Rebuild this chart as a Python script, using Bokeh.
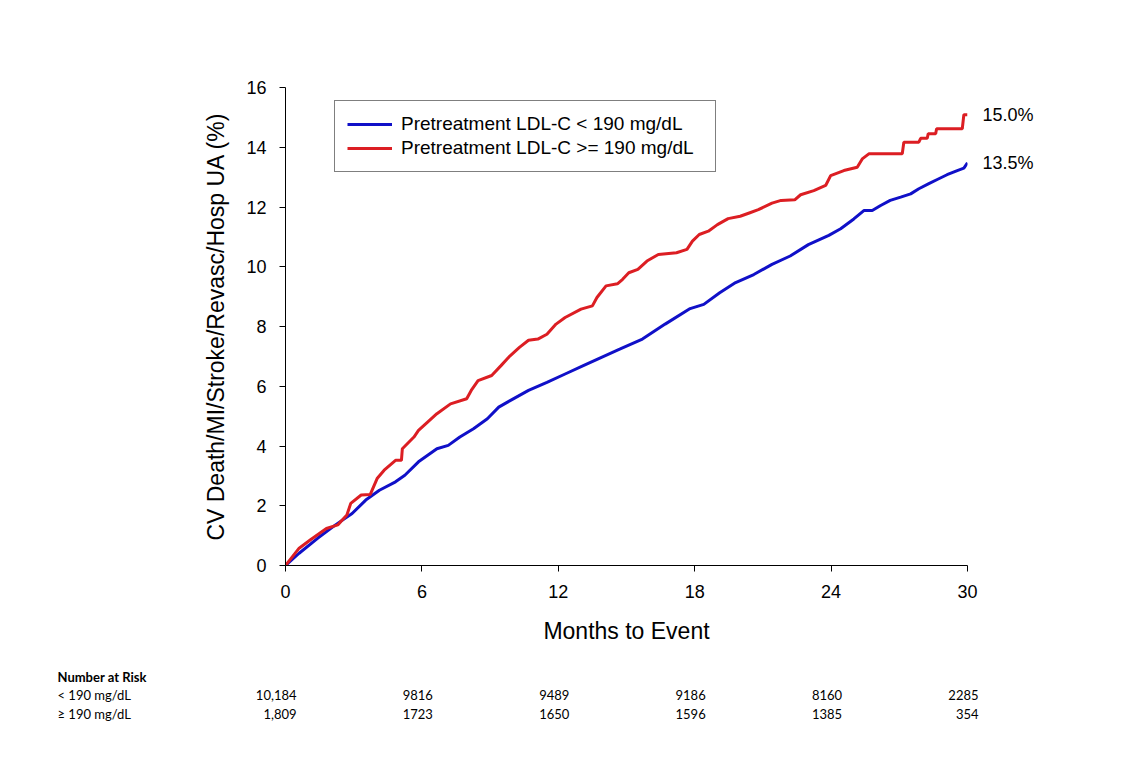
from bokeh.plotting import figure
from bokeh.models import Range1d, Legend, LegendItem, FixedTicker, ColumnDataSource, LinearAxis
from bokeh.embed import file_html
from bokeh.resources import INLINE
from bokeh.core.properties import value

# ---------------- data ----------------
months_low = [0, 0.6, 1.41, 2.2, 2.93, 3.53, 4.13, 4.84, 5.25, 5.85, 6.66, 7.16, 7.67, 8.27,
              8.88, 9.38, 9.88, 10.69, 11.5, 12.3, 13.1, 13.9, 14.7, 15.7, 16.7, 17.8, 18.4,
              19.1, 19.8, 20.6, 21.4, 22.2, 23.0, 23.9, 24.42, 25.0, 25.44, 25.81, 26.18,
              26.6, 27.06, 27.5, 27.86, 28.3, 28.67, 29.1, 29.55, 29.84, 30.0]
rate_low = [0, 0.41, 0.91, 1.36, 1.74, 2.19, 2.52, 2.8, 3.02, 3.47, 3.91, 4.02, 4.3, 4.58,
            4.91, 5.3, 5.52, 5.86, 6.13, 6.41, 6.69, 6.97, 7.24, 7.58, 8.08, 8.6, 8.74,
            9.13, 9.47, 9.74, 10.08, 10.36, 10.74, 11.05, 11.27, 11.6, 11.88, 11.88, 12.05,
            12.22, 12.33, 12.44, 12.61, 12.78, 12.92, 13.08, 13.22, 13.3, 13.48]

months_high = [0, 0.6, 1.1, 1.8, 2.3, 2.7, 2.87, 3.33, 3.73, 4.03, 4.34, 4.84, 5.1, 5.14,
               5.65, 5.85, 6.25, 6.66, 7.26, 7.97, 8.17, 8.47, 9.07, 9.48, 9.88, 10.29,
               10.69, 11.1, 11.5, 11.9, 12.3, 13.0, 13.5, 13.7, 14.1, 14.6, 14.83, 15.1,
               15.5, 15.9, 16.4, 17.2, 17.66, 17.9, 18.2, 18.6, 19.0, 19.47, 20.0, 20.4,
               20.8, 21.4, 21.8, 22.4, 22.66, 23.24, 23.76, 23.98, 24.56, 25.15, 25.37,
               25.66, 27.13, 27.2, 27.86, 27.94, 28.23, 28.27, 28.6, 28.64, 29.77, 29.84, 30.0]
rate_high = [0, 0.58, 0.86, 1.24, 1.36, 1.69, 2.08, 2.36, 2.38, 2.91, 3.19, 3.52, 3.52, 3.91,
             4.3, 4.52, 4.8, 5.08, 5.41, 5.58, 5.86, 6.19, 6.36, 6.69, 7.02, 7.3,
             7.54, 7.58, 7.74, 8.08, 8.3, 8.58, 8.69, 8.97, 9.36, 9.43, 9.58, 9.8,
             9.91, 10.19, 10.41, 10.47, 10.58, 10.86, 11.08, 11.19, 11.41, 11.61, 11.69, 11.8,
             11.91, 12.13, 12.22, 12.24, 12.41, 12.55, 12.72, 13.05, 13.22, 13.33, 13.61,
             13.78, 13.78, 14.17, 14.17, 14.3, 14.3, 14.45, 14.45, 14.62, 14.62, 15.09, 15.09]

series_names = ["Pretreatment LDL-C < 190 mg/dL", "Pretreatment LDL-C >= 190 mg/dL"]
end_labels = ["13.5%", "15.0%"]

x_ticks = [0, 6, 12, 18, 24, 30]
y_ticks = [0, 2, 4, 6, 8, 10, 12, 14, 16]

risk_title = "Number at Risk"
risk_groups = ["< 190 mg/dL", "\u2265 190 mg/dL"]
risk_low = ["10,184", "9816", "9489", "9186", "8160", "2285"]
risk_high = ["1,809", "1723", "1650", "1596", "1385", "354"]

# ---------------- styling ----------------
BLUE = "#1010C8"
RED = "#DC1E23"
FONT = "Liberation Sans"
TFONT = "Lato"

W = 1106
H_MAIN = 650
FL, FR, FT, FB = 285, 967, 87, 565   # frame edges in figure px

p = figure(width=W, height=H_MAIN, output_backend="svg", toolbar_location=None,
           x_range=Range1d(0, 30), y_range=Range1d(0, 16),
           min_border_left=FL, min_border_right=W - FR,
           min_border_top=FT, min_border_bottom=H_MAIN - FB)
p.outline_line_color = None
p.grid.grid_line_color = None
p.background_fill_color = "white"
p.border_fill_color = "white"

for ax in (p.xaxis, p.yaxis):
    ax.axis_line_color = "black"
    ax.axis_line_width = 1
    ax.major_tick_line_color = "black"
    ax.major_tick_out = 6
    ax.major_tick_in = 0
    ax.minor_tick_line_color = None
    ax.major_label_text_font = FONT
    ax.major_label_text_font_size = "18px"
    ax.major_label_text_color = "black"
    ax.axis_label_text_font = FONT
    ax.axis_label_text_font_size = "23px"
    ax.axis_label_text_font_style = "normal"
    ax.axis_label_text_color = "black"

p.xaxis.ticker = FixedTicker(ticks=x_ticks)
p.yaxis.ticker = FixedTicker(ticks=y_ticks)
p.xaxis.axis_label = "Months to Event"
p.yaxis.axis_label = "CV Death/MI/Stroke/Revasc/Hosp UA (%)"
p.xaxis.major_label_standoff = 13
p.yaxis.major_label_standoff = 13
p.xaxis.axis_label_standoff = 17
p.yaxis.axis_label_standoff = 14

r_low = p.line(months_low, rate_low, line_color=BLUE, line_width=3)
r_high = p.line(months_high, rate_high, line_color=RED, line_width=3)

# end-of-curve value labels, as a right axis at the final values
end_vals = [rate_low[-1], rate_high[-1]]
rax = LinearAxis(ticker=FixedTicker(ticks=end_vals),
                 major_label_overrides={end_vals[0]: end_labels[0], end_vals[1]: end_labels[1]})
rax.axis_line_color = None
rax.major_tick_line_color = None
rax.minor_tick_line_color = None
rax.major_tick_out = 0
rax.major_tick_in = 0
rax.major_label_standoff = 15
rax.major_label_text_font = FONT
rax.major_label_text_font_size = "18px"
rax.major_label_text_color = "black"
p.add_layout(rax, "right")

legend = Legend(items=[LegendItem(label=series_names[0], renderers=[r_low]),
                       LegendItem(label=series_names[1], renderers=[r_high])],
                location=(49, 393))
legend.border_line_color = "black"
legend.border_line_width = 1
legend.background_fill_alpha = 1
legend.label_text_font = FONT
legend.label_text_font_size = "19px"
legend.label_text_color = "black"
legend.glyph_width = 45
legend.glyph_height = 20
legend.label_height = 20
legend.label_width = 302
legend.spacing = 2
legend.padding = 12
legend.margin = 0
legend.label_standoff = 9
p.add_layout(legend)

# ---------------- number at risk table ----------------
H_TAB = 80
TOP = H_MAIN
s = (FR - FL) / 30.0
t = figure(width=W, height=H_TAB, output_backend="svg", toolbar_location=None,
           x_range=Range1d(-FL / s, (W - FL) / s), y_range=Range1d(H_TAB, 0),
           min_border=0, min_border_left=0, min_border_right=0,
           min_border_top=0, min_border_bottom=0)
t.outline_line_color = None
t.axis.visible = False
t.grid.grid_line_color = None

label_x = (57 - FL) / s
t.text(x=[label_x], y=[676 - TOP], text=[risk_title], text_font=value(TFONT),
       text_font_size="13px", text_font_style="bold", text_baseline="middle",
       text_align="left", text_color="black")
t.text(x=[label_x, label_x], y=[694 - TOP, 713 - TOP], text=risk_groups, text_font=value(TFONT),
       text_font_size="13px", text_baseline="middle", text_align="left", text_color="black")
src = ColumnDataSource(dict(x=x_ticks + x_ticks,
                            y=[694 - TOP] * len(x_ticks) + [713 - TOP] * len(x_ticks),
                            t=risk_low + risk_high))
t.text(x="x", y="y", text="t", source=src, x_offset=11, text_font=value(TFONT),
       text_font_size="13px", text_baseline="middle", text_align="right", text_color="black")

open("out.html", "w").write(file_html([p, t], INLINE))
